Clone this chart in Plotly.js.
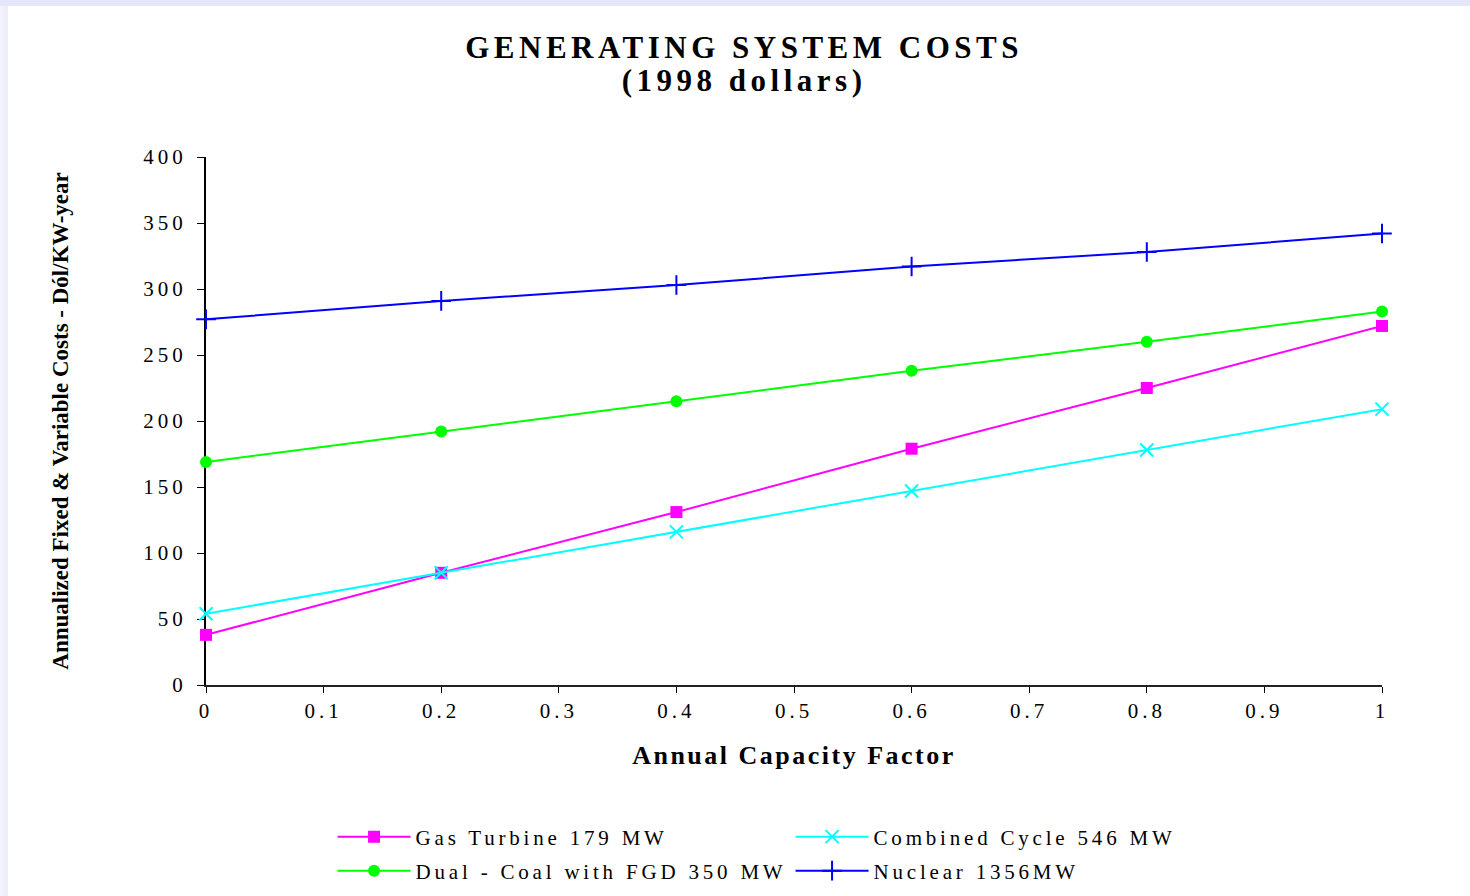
<!DOCTYPE html>
<html>
<head>
<meta charset="utf-8">
<script src="https://cdn.plot.ly/plotly-3.0.1.min.js"></script>
<style>
  html, body { margin: 0; padding: 0; background: #e6e6fa; width: 1470px; height: 896px; overflow: hidden; }
  #frame { position: absolute; left: 0; top: 6px; width: 8px; height: 890px; background: linear-gradient(to right, #f4f4fd, #ececfb); }
  #chart { position: absolute; left: 8px; top: 6px; width: 1462px; height: 890px; background: #fff; }
  #chart .xtick text, #chart .ytick text { letter-spacing: 4px; }
  #chart g[class*="legend"] text { letter-spacing: 3.8px; }
  #chart .gtitle { letter-spacing: 4.5px; }
  #chart .xtitle { letter-spacing: 2.5px; }
</style>
</head>
<body>
<div id="frame"></div>
<div id="chart"></div>
<script>
// Annual capacity factor (x) and annualized fixed + variable cost, $/kW-year (1998 dollars)
const capacityFactor = [0, 0.2, 0.4, 0.6, 0.8, 1];
const gasTurbine179   = [38, 85, 131, 179, 225, 272];
const combinedCycle546 = [54, 85, 116, 147, 178, 209];
const dualCoalFGD350  = [169, 192, 215, 238, 260, 283];
const nuclear1356     = [277, 291, 303, 317, 328, 342];

const seriesNames = [
  'Gas Turbine 179 MW',
  'Combined Cycle 546 MW',
  'Dual - Coal with FGD 350 MW',
  'Nuclear 1356MW'
];

const titleLines = ['GENERATING SYSTEM COSTS', '(1998 dollars)'];

const serif = 'Liberation Serif, Times New Roman, serif';

function series(name, y, color, symbol, size, lineW, legendId) {
  return {
    type: 'scatter', mode: 'lines+markers', name: name,
    x: capacityFactor, y: y,
    line: { color: color, width: 2 },
    marker: { color: color, symbol: symbol, size: size, line: { color: color, width: lineW } },
    legend: legendId,
    cliponaxis: false
  };
}

const traces = [
  series(seriesNames[0], gasTurbine179, '#ff00ff', 'square', 12, 0, 'legend'),
  series(seriesNames[1], combinedCycle546, '#00ffff', 'x-thin', 13, 2, 'legend'),
  series(seriesNames[2], dualCoalFGD350, '#00ff00', 'circle', 12, 0, 'legend2'),
  series(seriesNames[3], nuclear1356, '#0000ff', 'cross-thin', 14, 2, 'legend2')
];

const xRange = [0, 1];
const yRange = [0, 400];

function legendRow(yPos) {
  return {
    orientation: 'h',
    xref: 'container', x: 0.222, xanchor: 'left',
    yref: 'container', y: yPos, yanchor: 'middle',
    entrywidth: 370, entrywidthmode: 'pixels',
    itemwidth: 73,
    font: { family: serif, size: 21, color: '#000' },
    bgcolor: 'rgba(0,0,0,0)'
  };
}

// the base title size sets the line pitch; the spans set the glyph size
const titleText = titleLines
  .map(t => '<span style="font-size:31px"><b>' + t + '</b></span>')
  .join('<br>');

const layout = {
  width: 1462, height: 890,
  paper_bgcolor: '#ffffff', plot_bgcolor: '#ffffff',
  margin: { l: 198, r: 88, t: 151, b: 211 },
  font: { family: serif, color: '#000', size: 21 },
  showlegend: true,
  title: {
    text: titleText,
    font: { family: serif, size: 26, color: '#000' },
    xref: 'container', x: 0.5035, xanchor: 'center',
    yref: 'container', y: 0.942, yanchor: 'middle'
  },
  xaxis: {
    range: xRange, dtick: 0.1, tick0: 0,
    showgrid: false, zeroline: false,
    showline: true, linecolor: '#222', linewidth: 2,
    ticks: 'outside', ticklen: 6, tickwidth: 1, tickcolor: '#000',
    tickfont: { family: serif, size: 21 },
    layer: 'below traces',
    title: { text: '<b>Annual Capacity Factor</b>', font: { family: serif, size: 26 }, standoff: 24 }
  },
  xaxis2: {
    overlaying: 'x', anchor: 'y', side: 'bottom',
    range: xRange, dtick: 0.1, tick0: 0,
    showgrid: false, zeroline: false, showline: false,
    ticks: 'inside', ticklen: 6, tickwidth: 1, tickcolor: '#000',
    showticklabels: false, layer: 'below traces'
  },
  xaxis3: {
    overlaying: 'x', anchor: 'y', side: 'top',
    range: xRange, showgrid: false, zeroline: false,
    showline: true, linecolor: '#888', linewidth: 2,
    ticks: '', showticklabels: false, layer: 'below traces'
  },
  yaxis: {
    range: yRange, dtick: 50, tick0: 0,
    showgrid: false, zeroline: false,
    showline: true, linecolor: '#000', linewidth: 2,
    ticks: 'outside', ticklen: 7, tickwidth: 1, tickcolor: '#000',
    tickfont: { family: serif, size: 21 },
    ticklabelstandoff: 6,
    layer: 'below traces',
    title: { text: '<b>Annualized Fixed & Variable Costs - Dól/KW-year</b>', font: { family: serif, size: 23 }, standoff: 80 }
  },
  yaxis2: {
    overlaying: 'y', anchor: 'x', side: 'left',
    range: yRange, dtick: 50, tick0: 0,
    showgrid: false, zeroline: false, showline: false,
    ticks: 'inside', ticklen: 7, tickwidth: 1, tickcolor: '#000',
    showticklabels: false, layer: 'below traces'
  },
  yaxis3: {
    overlaying: 'y', anchor: 'x', side: 'right',
    range: yRange, showgrid: false, zeroline: false,
    showline: true, linecolor: '#888', linewidth: 2,
    ticks: '', showticklabels: false, layer: 'below traces'
  },
  legend: legendRow(0.0663),
  legend2: legendRow(0.0281)
};

Plotly.newPlot('chart', traces, layout, { displayModeBar: false, staticPlot: true });
</script>
</body>
</html>
